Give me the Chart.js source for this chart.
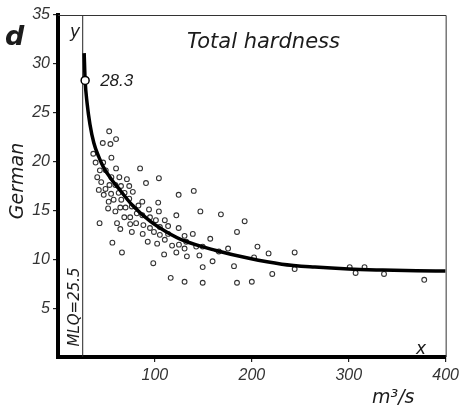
<!DOCTYPE html>
<html>
<head>
<meta charset="utf-8">
<script src="https://cdn.jsdelivr.net/npm/chart.js@4.4.1/dist/chart.umd.min.js"></script>
<style>
  html, body { margin: 0; padding: 0; background: #fff; }
  #wrap { width: 463px; height: 412px; position: relative; }
</style>
</head>
<body>
<div id="wrap"><canvas id="chart"></canvas></div>

<script>
    // observed discharge (m3/s) vs total hardness (German degrees)
    const obsQ = [
        52.8, 46.2, 54.1, 59.9, 36.4, 38.8, 46.6, 55.1, 84.7, 43.2,
        49.3, 59.9, 40.5, 44.6, 55.1, 63.3, 71.1, 90.8, 104.1, 42.1,
        49.0, 53.1, 59.2, 65.0, 73.5, 47.2, 54.8, 62.6, 68.7, 77.2,
        124.5, 140.1, 52.3, 57.4, 65.3, 73.5, 87.0, 103.4, 51.7, 59.2,
        64.3, 69.7, 76.2, 83.0, 93.9, 104.1, 122.1, 146.9, 42.9, 60.9,
        68.4, 74.5, 81.3, 87.0, 94.9, 101.0, 110.2, 64.3, 74.5, 80.6,
        88.1, 94.9, 105.1, 113.6, 124.5, 76.2, 87.4, 99.0, 105.1, 113.6,
        130.6, 139.1, 56.1, 92.6, 102.3, 110.2, 117.7, 124.8, 132.3, 142.6,
        149.3, 66.0, 109.5, 122.1, 130.6, 133.0, 145.9, 98.3, 116.3, 130.6,
        168.1, 192.6, 184.7, 157.1, 175.5, 166.0, 159.5, 149.3, 205.8, 202.3,
        217.3, 244.2, 181.6, 221.1, 244.2, 149.3, 184.7, 200.0, 301.0, 307.1,
        316.3, 336.4, 377.9
    ];
    const obsHardness = [
        23.1, 21.9, 21.8, 22.3, 20.8, 19.9, 19.9, 20.4, 19.3, 19.1,
        19.1, 19.3, 18.4, 17.9, 18.4, 18.4, 18.2, 17.8, 18.3, 17.1,
        17.2, 17.6, 17.6, 17.5, 17.5, 16.6, 16.7, 16.8, 16.8, 16.9,
        16.6, 17.0, 15.9, 16.1, 16.1, 16.2, 15.9, 15.8, 15.2, 14.9,
        15.3, 15.3, 15.4, 15.5, 15.1, 14.9, 14.5, 14.9, 13.7, 13.7,
        14.3, 14.3, 14.7, 14.5, 14.3, 14.0, 14.0, 13.1, 13.6, 13.7,
        13.5, 13.2, 13.3, 13.4, 13.2, 12.8, 12.6, 12.8, 12.5, 12.6,
        12.4, 12.6, 11.7, 11.8, 11.6, 12.0, 11.4, 11.5, 11.8, 11.3,
        11.3, 10.7, 10.5, 10.7, 11.1, 10.3, 10.4, 9.6, 8.1, 7.7,
        14.6, 13.9, 12.8, 12.1, 11.1, 10.8, 9.8, 9.2, 11.3, 10.2,
        10.6, 10.7, 9.3, 8.5, 9.0, 7.6, 7.6, 7.7, 9.2, 8.6,
        9.2, 8.5, 7.9
    ];

    // fitted curve
    const curveQ = [27, 28, 30, 33, 37, 42, 47, 55, 63, 77, 95, 112, 130, 163, 197, 231, 265, 300, 335, 370, 400];
    const curveHardness = [31.1, 28.3, 26.0, 23.8, 21.9, 20.5, 19.4, 18.2, 17.2, 15.5, 13.9, 12.8, 11.9, 10.9, 10.1, 9.5, 9.2, 9.0, 8.9, 8.83, 8.8];

    const mlq = 25.5;
    const mlqPoint = { q: 28, value: 28.3 };

    const xTicks = [100, 200, 300, 400];
    const yTicks = [5, 10, 15, 20, 25, 30, 35];

    const ink = '#1c1c1c';
    const tickFont = { family: 'Liberation Sans', size: 16, style: 'italic' };

    const toPoints = (xs, ys) => xs.map((x, i) => ({ x: x, y: ys[i] }));

    // labels and frame drawn on top of the plot
    const annotate = {
        id: 'annotate',
        afterDraw(chart) {
            const c = chart.ctx;
            const a = chart.chartArea;
            const xs = chart.scales.x, ys = chart.scales.y;
            c.save();
            // thin frame on top and right
            c.strokeStyle = '#333';
            c.lineWidth = 1;
            c.beginPath();
            c.moveTo(a.left, a.top + 0.5);
            c.lineTo(a.right + 0.5, a.top + 0.5);
            c.lineTo(a.right + 0.5, a.bottom);
            c.stroke();

            c.fillStyle = ink;
            c.textBaseline = 'alphabetic';
            c.textAlign = 'left';

            c.font = 'italic bold 27px "DejaVu Sans"';
            c.fillText('d', 5, 45);

            c.font = 'italic 17px "DejaVu Sans"';
            c.fillText('y', 70, 37);

            c.font = 'italic 21px "DejaVu Sans"';
            c.fillText('Total hardness', 187, 48);

            c.font = 'italic 17px "Liberation Sans"';
            const px = xs.getPixelForValue(mlqPoint.q), py = ys.getPixelForValue(mlqPoint.value);
            c.fillText(String(mlqPoint.value), px + 15, py + 6);

            c.font = 'italic 17px "DejaVu Sans"';
            c.fillText('x', 416, 354);

            c.font = 'italic 19px "DejaVu Sans"';
            c.fillText('m\u00B3/s', 372, 403);

            // rotated texts
            c.textAlign = 'center';
            c.save();
            c.translate(23, 181);
            c.rotate(-Math.PI / 2);
            c.font = 'italic 19px "DejaVu Sans"';
            c.fillText('German', 0, 0);
            c.restore();

            c.save();
            c.translate(xs.getPixelForValue(mlq) - 4, 307);
            c.rotate(-Math.PI / 2);
            c.font = 'italic 15px "DejaVu Sans"';
            c.fillText('MLQ=' + mlq, 0, 0);
            c.restore();

            c.restore();
        }
    };

    new Chart(document.getElementById('chart'), {
        type: 'scatter',
        data: {
            datasets: [
                {
                    data: [{ x: mlq, y: 0 }, { x: mlq, y: 35 }],
                    showLine: true,
                    borderColor: '#222',
                    borderWidth: 1,
                    pointRadius: 0,
                    order: 4
                },
                {
                    data: toPoints(obsQ, obsHardness),
                    pointRadius: 2.4,
                    pointBorderWidth: 1.1,
                    borderColor: '#333',
                    backgroundColor: '#fff',
                    order: 3
                },
                {
                    data: toPoints(curveQ, curveHardness),
                    showLine: true,
                    borderColor: '#000',
                    borderWidth: 3.5,
                    cubicInterpolationMode: 'monotone',
                    pointRadius: 0,
                    order: 2
                },
                {
                    data: [{ x: mlqPoint.q, y: mlqPoint.value }],
                    pointRadius: 4,
                    pointBorderWidth: 1.5,
                    borderColor: '#000',
                    backgroundColor: '#fff',
                    order: 1
                }
            ]
        },
        options: {
            responsive: true,
            maintainAspectRatio: false,
            animation: false,
            layout: { padding: { top: 15, right: 13, left: 0, bottom: 0 } },
            plugins: { legend: { display: false }, tooltip: { enabled: false } },
            scales: {
                x: {
                    type: 'linear',
                    min: 0,
                    max: 400,
                    afterFit: s => { s.height = 55; },
                    afterBuildTicks: s => { s.ticks = xTicks.map(v => ({ value: v })); },
                    border: { display: true, color: '#000', width: 4 },
                    grid: { display: true, drawOnChartArea: false, drawTicks: true, tickLength: 5, color: '#222', lineWidth: 1.2 },
                    ticks: { color: '#333', font: tickFont, padding: 4, maxRotation: 0 }
                },
                y: {
                    type: 'linear',
                    min: 0,
                    max: 35,
                    afterFit: s => { s.width = 58; },
                    afterBuildTicks: s => { s.ticks = yTicks.map(v => ({ value: v })); },
                    border: { display: true, color: '#000', width: 4 },
                    grid: { display: true, drawOnChartArea: false, drawTicks: true, tickLength: 5, color: '#222', lineWidth: 1.2 },
                    ticks: { color: '#333', font: tickFont, padding: 3 }
                }
            }
        },
        plugins: [annotate]
    });
</script>
</body>
</html>
